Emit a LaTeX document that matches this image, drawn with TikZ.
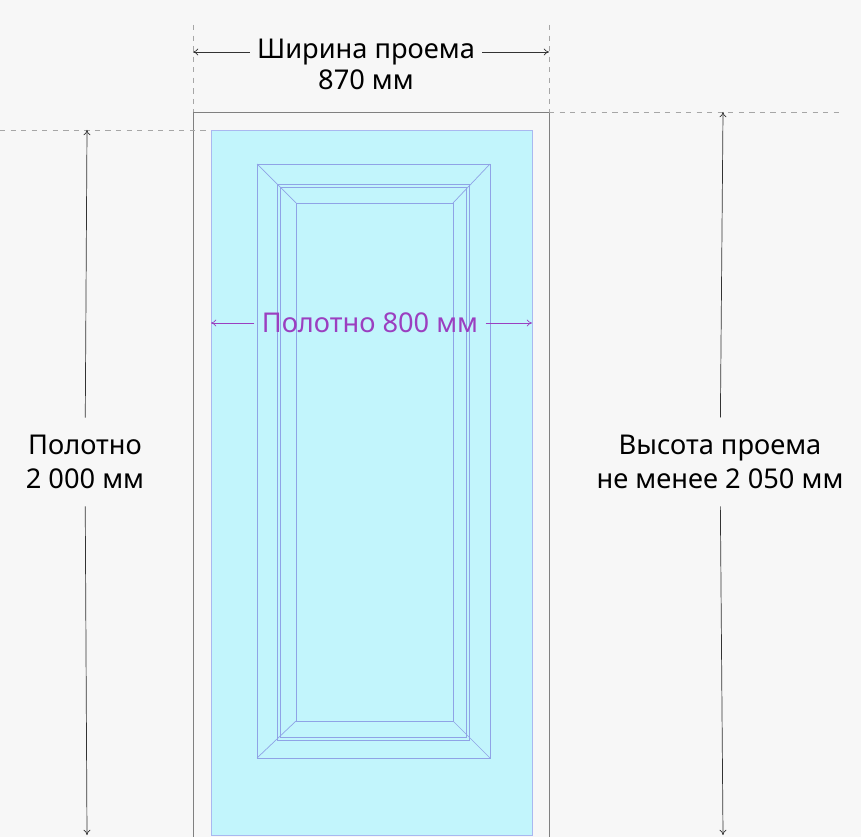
\documentclass[tikz,border=0pt]{standalone}
\usepackage{fontspec}
\setmainfont{Noto Sans}
\usetikzlibrary{arrows.meta}
\definecolor{bg}{HTML}{F7F7F7}
\definecolor{leaf}{HTML}{C2F5FC}
\definecolor{edge}{HTML}{A9B8F0}
\definecolor{panel}{HTML}{8FA3E6}
\definecolor{violet}{HTML}{9B3FC0}
\tikzset{
  dim/.style={-{To[length=3pt,width=4pt]}, line width=0.4pt, black!80},
  guide/.style={dashed, gray!70, line width=0.5pt},
  wall/.style={gray, line width=0.5pt},
  lbl/.style={font=\fontsize{15.5pt}{19pt}\selectfont, align=center, inner sep=4pt}
}
\begin{document}
\begin{tikzpicture}[x=0.02cm,y=-0.02cm]
  \useasboundingbox[fill=bg] (0,0) rectangle (861,837);

  % Opening
  \draw[wall] (193,837) -- (193,112) -- (549,112) -- (549,837);
  \draw[guide] (193,25) -- (193,112);
  \draw[guide] (549,25) -- (549,112);
  \draw[guide] (0,130) -- (211,130);
  \draw[guide] (549,112) -- (840,112);

  % Door leaf
  \draw[edge, fill=leaf, line width=0.5pt] (211,130) rectangle (532,835);
  \draw[panel, line width=0.4pt] (257,164) rectangle (490,758);
  \draw[panel, line width=0.4pt] (277,184) rectangle (469,740);
  \draw[panel, line width=0.4pt] (280,187) rectangle (466,737);
  \draw[panel, line width=0.4pt] (296,203) rectangle (453,721);
  \foreach \a/\b in {257/164, 490/164, 490/758, 257/758} {
    \pgfmathsetmacro{\c}{\a<370 ? 296 : 453}
    \pgfmathsetmacro{\d}{\b<400 ? 203 : 721}
    \draw[panel, line width=0.4pt] (\a,\b) -- (\c,\d);
  }

  % Opening width
  \coordinate (wL) at (193,52);
  \coordinate (wR) at (549,52);
  \node[lbl] (wT) at (366,52) {Ширина проема};
  \node[lbl, anchor=north] (wN) at (366,62) {870 мм};
  \draw[dim] (wT) -- (wL);
  \draw[dim] (wT) -- (wR);

  % Leaf width
  \coordinate (lL) at (211,323);
  \coordinate (lR) at (532,323);
  \node[lbl, text=violet] (lT) at (370,323) {Полотно 800 мм};
  \draw[dim, violet] (lT) -- (lL);
  \draw[dim, violet] (lT) -- (lR);

  % Leaf height
  \coordinate (hT) at (87,130);
  \coordinate (hB) at (87,835);
  \node[lbl, inner sep=10pt] (hL) at (85,462) {Полотно\\2 000 мм};
  \draw[dim] (hL) -- (hT);
  \draw[dim] (hL) -- (hB);

  % Opening height
  \coordinate (oT) at (723,112);
  \coordinate (oB) at (723,835);
  \node[lbl, inner sep=10pt] (oL) at (720,462) {Высота проема\\не менее 2 050 мм};
  \draw[dim] (oL) -- (oT);
  \draw[dim] (oL) -- (oB);
\end{tikzpicture}
\end{document}
